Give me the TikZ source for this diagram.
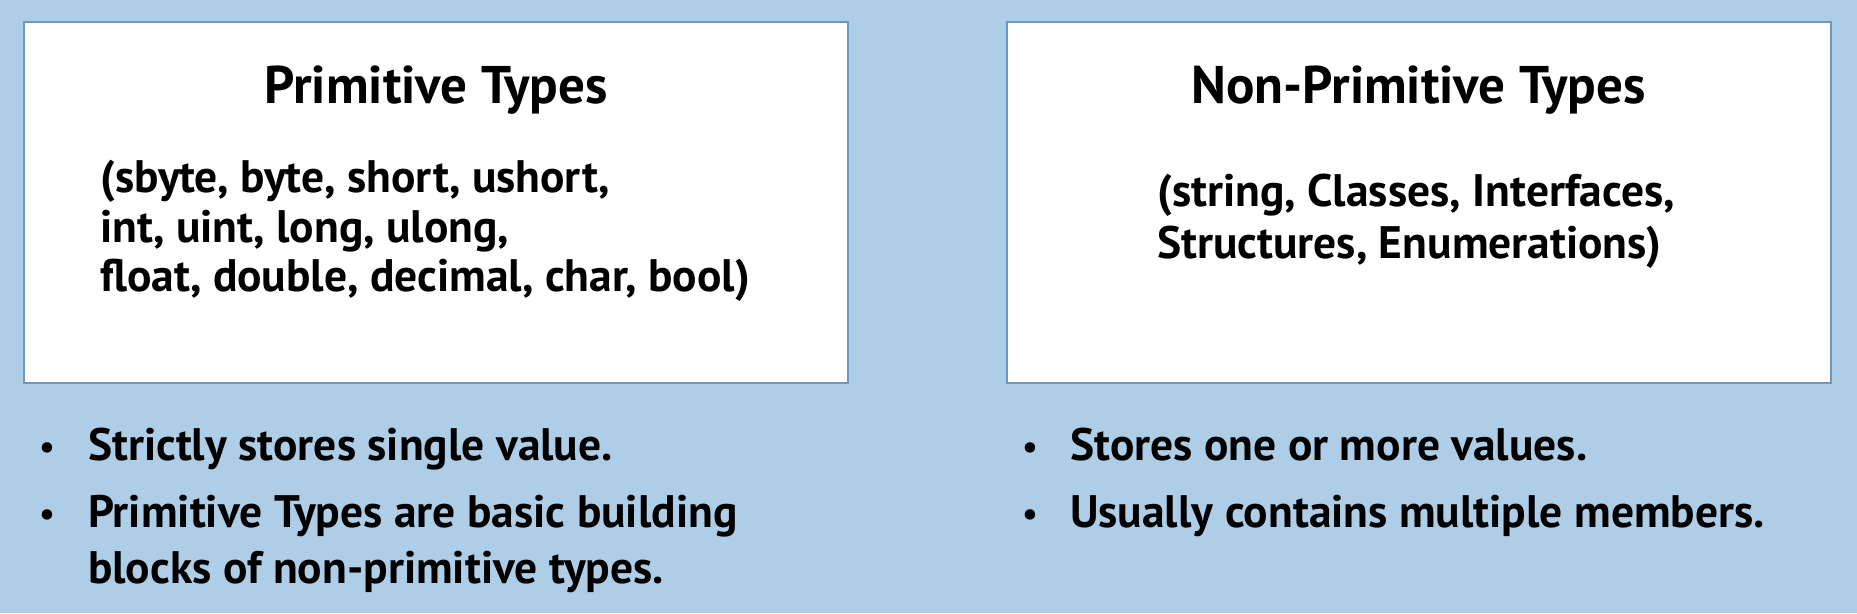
\documentclass[tikz,border=0pt]{standalone}
\usepackage{fontspec}
\setmainfont{PT Sans}
\definecolor{bgblue}{HTML}{AECDE6}
\definecolor{edgeblue}{HTML}{6F98BF}
\begin{document}
\begin{tikzpicture}[x=1pt,y=-1pt,
  panel/.style={draw=edgeblue, line width=2pt, fill=white, minimum width=824pt, minimum height=361pt, inner sep=0pt},
  titletext/.style={font=\bfseries\fontsize{53}{60}\selectfont, anchor=base, inner sep=0pt},
  bodytext/.style={font=\bfseries\fontsize{45.5}{50}\selectfont, anchor=base west, inner sep=0pt},
  bullettext/.style={font=\bfseries\fontsize{45.5}{50}\selectfont, anchor=base west, inner sep=0pt},
  dot/.style={font=\bfseries\fontsize{34}{40}\selectfont, anchor=base, inner sep=0pt}]
\fill[bgblue] (0,0) rectangle (1857,613);
\useasboundingbox (0,0) rectangle (1857,613);
\node[panel] (leftbox) at (436,202.5) {};
\node[panel] (rightbox) at (1418.5,202.5) {};
% left box
\node[titletext] (lt) at (436,103) {Primitive Types};
\node[bodytext] (l1) at (100,192) {(sbyte, byte, short, ushort,};
\node[bodytext] (l2) at (100,242) {int, uint, long, ulong,};
\node[bodytext] (l3) at (100,291) {float, double, decimal, char, bool)};
% right box
\node[titletext] (rt) at (1418.5,103) {Non-Primitive Types};
\node[bodytext] (r1) at (1157,206) {(string, Classes, Interfaces,};
\node[bodytext] (r2) at (1157,258) {Structures, Enumerations)};
% bullets left
\node[dot] (ld1) at (47,458) {•};
\node[bullettext] (lb1) at (88,460) {Strictly stores single value.};
\node[dot] (ld2) at (47,525) {•};
\node[bullettext] (lb2) at (88,527) {Primitive Types are basic building};
\node[bullettext] (lb3) at (88,583) {blocks of non-primitive types.};
% bullets right
\node[dot] (rd1) at (1030,458) {•};
\node[bullettext] (rb1) at (1070,460) {Stores one or more values.};
\node[dot] (rd2) at (1030,525) {•};
\node[bullettext] (rb2) at (1070,527) {Usually contains multiple members.};
\end{tikzpicture}
\end{document}
